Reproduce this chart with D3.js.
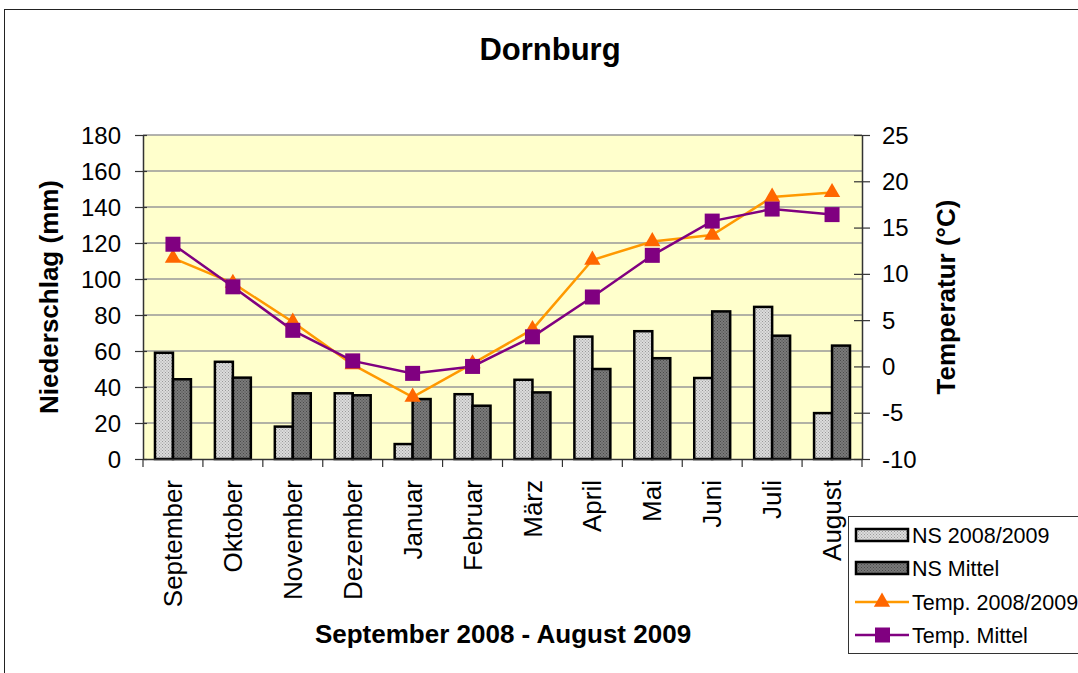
<!DOCTYPE html>
<html><head><meta charset="utf-8">
<script src="https://cdn.jsdelivr.net/npm/d3@7"></script>
<style>body{margin:0;background:#fff;}svg{display:block;font-family:"Liberation Sans",Arial,sans-serif;}</style>
</head><body>
<svg id="c" width="1078" height="673"></svg>
<script>
const months = ["September","Oktober","November","Dezember","Januar","Februar","März","April","Mai","Juni","Juli","August"];
const nsYear = [59,54,18,36.5,8.3,36,44,68,71,45,84.5,25.5];
const nsMean = [44.3,45.2,36.5,35.4,33.3,29.6,37,50,56,82,68.5,63];
const tempYear = [11.7,9.0,4.8,0.2,-3.3,0.3,4.0,11.5,13.5,14.2,18.3,18.8];
const tempMean = [13.2,8.6,3.9,0.6,-0.75,0.0,3.2,7.5,12.0,15.7,17.0,16.4];
const leftTicks = [0,20,40,60,80,100,120,140,160,180];
const rightTicks = [-10,-5,0,5,10,15,20,25];
const seriesNames = ["NS 2008/2009","NS Mittel","Temp. 2008/2009","Temp. Mittel"];

const svg = d3.select("#c");
const L=143,R=862,T=135,B=459;
const defs = svg.append("defs");
function pat(id,bg,dot){
  const p=defs.append("pattern").attr("id",id).attr("width",3).attr("height",3).attr("patternUnits","userSpaceOnUse");
  p.append("rect").attr("width",3).attr("height",3).attr("fill",bg);
  p.append("rect").attr("x",0).attr("y",0).attr("width",1).attr("height",1).attr("fill",dot);
  p.append("rect").attr("x",1.5).attr("y",1.5).attr("width",1).attr("height",1).attr("fill",dot);
}
pat("pLight","#dcdcdc","#9a9a9a");
pat("pDark","#7a7a7a","#4a4a4a");

// outer frame
svg.append("rect").attr("x",4.5).attr("y",9.5).attr("width",1100).attr("height",700).attr("fill","none").attr("stroke","#222").attr("stroke-width",1);

const x = d3.scaleBand().domain(months).range([L,R]).padding(0);
const yL = d3.scaleLinear().domain([0,180]).range([B,T]);
const yR = d3.scaleLinear().domain([-10,25]).range([B,T]);

svg.append("rect").attr("x",L).attr("y",T).attr("width",R-L).attr("height",B-T).attr("fill","#FFFFCC");
svg.append("g").selectAll("line").data(leftTicks.filter(d=>d>0)).join("line")
 .attr("x1",L).attr("x2",R).attr("y1",d=>yL(d)).attr("y2",d=>yL(d)).attr("stroke","#999").attr("stroke-width",1.5);

// bars
const bw = x.bandwidth()*0.3;
const off = (x.bandwidth()-2*bw)/2;
svg.append("g").selectAll("rect").data(nsYear).join("rect")
 .attr("x",(d,i)=>x(months[i])+off).attr("y",d=>yL(d)).attr("width",bw).attr("height",d=>B-yL(d))
 .attr("fill","url(#pLight)").attr("stroke","#000").attr("stroke-width",2.5);
svg.append("g").selectAll("rect").data(nsMean).join("rect")
 .attr("x",(d,i)=>x(months[i])+off+bw).attr("y",d=>yL(d)).attr("width",bw).attr("height",d=>B-yL(d))
 .attr("fill","url(#pDark)").attr("stroke","#000").attr("stroke-width",2.5);

// axes
const gL = svg.append("g").attr("transform",`translate(${L},0)`).call(d3.axisLeft(yL).tickValues(leftTicks).tickSize(7).tickSizeOuter(0));
const gR = svg.append("g").attr("transform",`translate(${R},0)`).call(d3.axisRight(yR).tickValues(rightTicks).tickSize(8).tickSizeOuter(0));
const gB = svg.append("g").attr("transform",`translate(0,${B})`).call(d3.axisBottom(x).tickSize(0).tickSizeOuter(0));
[gL,gR,gB].forEach(g=>{g.select(".domain").attr("stroke","#333").attr("stroke-width",1.5);g.selectAll(".tick line").attr("stroke","#333").attr("stroke-width",1.2);g.selectAll(".tick text").remove();});
gL.selectAll(".tick line").attr("x2",-8).attr("x1",4);
gR.selectAll(".tick line").attr("x1",-8).attr("x2",8);
svg.append("g").selectAll("line").data(d3.range(months.length+1)).join("line")
 .attr("x1",i=>L+i*x.step()).attr("x2",i=>L+i*x.step()).attr("y1",B).attr("y2",B+8).attr("stroke","#333").attr("stroke-width",1.2);

// tick labels
svg.append("g").selectAll("text").data(leftTicks).join("text")
 .attr("x",121).attr("y",d=>yL(d)).attr("dy","0.36em").attr("text-anchor","end").attr("font-size",24).text(d=>d);
svg.append("g").selectAll("text").data(rightTicks).join("text")
 .attr("x",882).attr("y",d=>yR(d)).attr("dy","0.36em").attr("text-anchor","start").attr("font-size",24).text(d=>d);
svg.append("g").selectAll("text").data(months).join("text")
 .attr("transform",d=>`translate(${x(d)+x.bandwidth()/2},480) rotate(-90)`).attr("dy","0.35em").attr("text-anchor","end").attr("font-size",26).text(d=>d);

// lines
const lineY = d3.line().x((d,i)=>x(months[i])+x.bandwidth()/2).y(d=>yR(d));
svg.append("path").datum(tempYear).attr("d",lineY).attr("fill","none").attr("stroke","#FF9900").attr("stroke-width",2.5);
svg.append("path").datum(tempMean).attr("d",lineY).attr("fill","none").attr("stroke","#800080").attr("stroke-width",2.5);
const tri = d3.symbol().type(d3.symbolTriangle).size(115);
svg.append("g").selectAll("path").data(tempYear).join("path")
 .attr("d",tri).attr("transform",(d,i)=>`translate(${x(months[i])+x.bandwidth()/2},${yR(d)})`).attr("fill","#FF6600");
svg.append("g").selectAll("rect").data(tempMean).join("rect")
 .attr("x",(d,i)=>x(months[i])+x.bandwidth()/2-7.5).attr("y",d=>yR(d)-7.5).attr("width",15).attr("height",15).attr("fill","#800080");

// titles
svg.append("text").attr("x",550).attr("y",60).attr("text-anchor","middle").attr("font-size",31).attr("font-weight","bold").text("Dornburg");
svg.append("text").attr("x",503).attr("y",643).attr("text-anchor","middle").attr("font-size",26).attr("font-weight","bold").text("September 2008 - August 2009");
svg.append("text").attr("transform",`translate(58,${(T+B)/2}) rotate(-90)`).attr("text-anchor","middle").attr("font-size",26).attr("font-weight","bold").text("Niederschlag (mm)");
svg.append("text").attr("transform",`translate(955,${(T+B)/2}) rotate(-90)`).attr("text-anchor","middle").attr("font-size",26).attr("font-weight","bold").text("Temperatur (°C)");

// legend
const lg = svg.append("g");
lg.append("rect").attr("x",848.5).attr("y",516.5).attr("width",260).attr("height",137).attr("fill","#fff").attr("stroke","#333").attr("stroke-width",1);
const rowsY=[535,568,602,635];
lg.append("rect").attr("x",856).attr("y",rowsY[0]-6).attr("width",52).attr("height",12).attr("fill","url(#pLight)").attr("stroke","#000").attr("stroke-width",2.5);
lg.append("rect").attr("x",856).attr("y",rowsY[1]-6).attr("width",52).attr("height",12).attr("fill","url(#pDark)").attr("stroke","#000").attr("stroke-width",2.5);
lg.append("line").attr("x1",855).attr("x2",909).attr("y1",rowsY[2]).attr("y2",rowsY[2]).attr("stroke","#FF9900").attr("stroke-width",2.5);
lg.append("path").attr("d",tri).attr("transform",`translate(882,${rowsY[2]})`).attr("fill","#FF6600");
lg.append("line").attr("x1",855).attr("x2",909).attr("y1",rowsY[3]).attr("y2",rowsY[3]).attr("stroke","#800080").attr("stroke-width",2.5);
lg.append("rect").attr("x",875).attr("y",rowsY[3]-7.5).attr("width",15).attr("height",15).attr("fill","#800080");
lg.selectAll("text.lt").data(seriesNames).join("text").attr("class","lt").attr("x",912).attr("y",(d,i)=>rowsY[i]).attr("dy","0.36em").attr("font-size",21.5).text(d=>d);
</script>
</body></html>
